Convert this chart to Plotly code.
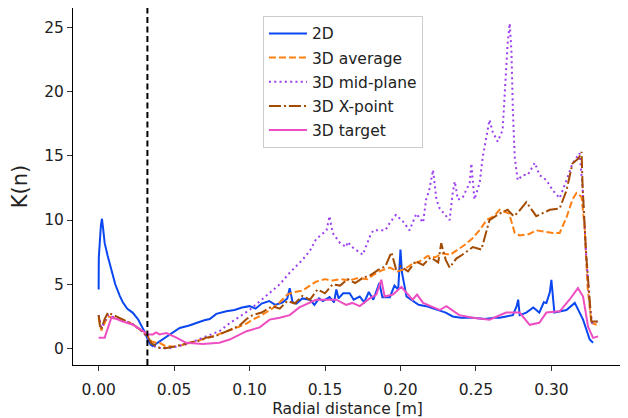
import plotly.graph_objects as go

# 2D
x_2d = [0.0000, 0.0001, 0.0015, 0.0022, 0.0030, 0.0040, 0.0060, 0.0084, 0.0110, 0.0140,
        0.0160, 0.0190, 0.0225, 0.0260, 0.0283, 0.0305, 0.0325, 0.0345, 0.0358, 0.0390,
        0.0424, 0.0480, 0.0537, 0.0600, 0.0647, 0.0700, 0.0736, 0.0780, 0.0846, 0.0900,
        0.0950, 0.1000, 0.1040, 0.1080, 0.1130, 0.1170, 0.1220, 0.1250, 0.1266, 0.1285,
        0.1310, 0.1350, 0.1400, 0.1430, 0.1460, 0.1486, 0.1530, 0.1560, 0.1575, 0.1590,
        0.1620, 0.1663, 0.1690, 0.1730, 0.1760, 0.1790, 0.1820, 0.1860, 0.1880, 0.1930,
        0.1960, 0.1985, 0.2000, 0.2010, 0.2040, 0.2080, 0.2120, 0.2170, 0.2220, 0.2260,
        0.2300, 0.2346, 0.2400, 0.2480, 0.2560, 0.2620, 0.2657, 0.2700, 0.2745, 0.2770,
        0.2780, 0.2790, 0.2834, 0.2880, 0.2920, 0.2950, 0.2967, 0.2990, 0.3000, 0.3020,
        0.3060, 0.3100, 0.3155, 0.3210, 0.3254, 0.3276]
k_2d = [4.6, 7.1, 9.6, 10.1, 9.3, 8.2, 7.2, 6.1, 5.0, 4.1,
        3.6, 3.1, 2.8, 2.3, 1.8, 1.3, 0.7, 0.3, 0.2, 0.45,
        0.75, 1.15, 1.6, 1.8, 2.0, 2.2, 2.3, 2.7, 2.9, 3.0,
        3.2, 3.3, 3.1, 3.5, 3.7, 3.4, 3.6, 3.9, 4.7, 3.6,
        3.5, 3.9, 3.8, 3.4, 3.9, 3.7, 4.0, 3.6, 4.6, 3.9,
        4.3, 4.3, 3.8, 4.05, 3.6, 4.4, 3.8, 5.1, 4.0, 4.0,
        4.9, 4.6, 7.7, 5.9, 4.05, 3.7, 3.4, 3.3, 3.1, 3.0,
        2.8, 2.5, 2.4, 2.4, 2.3, 2.4, 2.4, 2.5, 2.6, 3.3,
        3.8, 2.6, 2.8, 3.2, 2.8, 3.6, 3.55, 4.4, 5.35, 2.8,
        2.9, 3.0, 3.55, 2.25, 0.7, 0.45]

# 3D average
x_avg = [0.0000, 0.0008, 0.0018, 0.0040, 0.0062, 0.0100, 0.0160, 0.0225, 0.0290, 0.0327,
         0.0350, 0.0380, 0.0404, 0.0440, 0.0490, 0.0550, 0.0600, 0.0660, 0.0714, 0.0770,
         0.0820, 0.0880, 0.0930, 0.0980, 0.1020, 0.1080, 0.1150, 0.1200, 0.1250, 0.1300,
         0.1350, 0.1400, 0.1440, 0.1500, 0.1550, 0.1600, 0.1660, 0.1720, 0.1780, 0.1830,
         0.1880, 0.1930, 0.1980, 0.2030, 0.2080, 0.2130, 0.2180, 0.2230, 0.2280, 0.2330,
         0.2380, 0.2430, 0.2480, 0.2530, 0.2570, 0.2620, 0.2657, 0.2700, 0.2720, 0.2757,
         0.2790, 0.2850, 0.2900, 0.2950, 0.3010, 0.3055, 0.3100, 0.3140, 0.3166, 0.3200,
         0.3220, 0.3240, 0.3265, 0.3300]
k_avg = [2.5, 1.9, 1.4, 2.0, 2.5, 2.4, 2.25, 1.9, 1.35, 0.95,
         0.55, 0.45, 0.45, 0.2, 0.15, 0.25, 0.4, 0.6, 0.8, 1.0,
         1.2, 1.5, 1.7, 1.95, 2.25, 2.6, 3.1, 3.6, 4.2, 4.4,
         4.5, 4.9, 5.2, 5.4, 5.3, 5.4, 5.3, 5.5, 5.4, 5.8,
         6.1, 6.3, 6.0, 6.2, 6.6, 6.8, 7.2, 7.1, 7.4, 7.3,
         7.7, 8.1, 8.6, 9.3, 10.0, 10.3, 10.8, 10.6, 10.5, 9.0,
         8.8, 8.9, 9.2, 9.1, 9.0, 9.0, 10.2, 11.6, 12.1, 11.8,
         9.5, 4.8, 2.0, 1.85]

# 3D mid-plane
x_mid = [0.0000, 0.0018, 0.0062, 0.0160, 0.0225, 0.0290, 0.0327, 0.0360, 0.0404, 0.0460,
         0.0520, 0.0600, 0.0660, 0.0714, 0.0800, 0.0860, 0.0934, 0.1000, 0.1060, 0.1130,
         0.1200, 0.1266, 0.1350, 0.1400, 0.1440, 0.1510, 0.1530, 0.1550, 0.1600, 0.1640,
         0.1650, 0.1680, 0.1750, 0.1800, 0.1820, 0.1860, 0.1900, 0.1930, 0.1970, 0.2016,
         0.2060, 0.2105, 0.2150, 0.2170, 0.2190, 0.2216, 0.2238, 0.2260, 0.2300, 0.2326,
         0.2346, 0.2360, 0.2380, 0.2410, 0.2459, 0.2470, 0.2490, 0.2525, 0.2545, 0.2570,
         0.2590, 0.2610, 0.2644, 0.2677, 0.2690, 0.2710, 0.2724, 0.2735, 0.2745, 0.2757,
         0.2777, 0.2810, 0.2843, 0.2890, 0.2922, 0.2967, 0.3010, 0.3055, 0.3100, 0.3140,
         0.3187, 0.3207, 0.3230, 0.3254, 0.3270, 0.3307]
k_mid = [2.6, 1.6, 2.6, 2.2, 1.9, 1.3, 0.8, 0.2, 0.05, 0.0,
         0.15, 0.4, 0.7, 0.95, 1.35, 1.9, 2.5, 3.0, 3.6, 4.3,
         5.0, 5.9, 6.9, 7.6, 8.5, 9.2, 10.3, 9.0, 8.2, 7.9,
         8.3, 7.9, 7.3, 8.8, 9.2, 9.2, 9.2, 9.8, 10.4, 9.9,
         9.2, 10.5, 9.8, 11.6, 12.3, 13.9, 11.6, 10.9, 10.3, 10.0,
         12.1, 13.0, 11.6, 11.7, 12.9, 14.4, 11.6, 12.9, 14.9, 16.5,
         17.8, 16.9, 16.1, 17.0, 19.9, 23.7, 25.3, 23.2, 18.5, 14.9,
         13.1, 13.5, 13.5, 14.45, 13.5, 13.1, 12.3, 11.7, 13.1, 14.4,
         15.2, 12.5, 7.4, 3.3, 2.0, 2.1]

# 3D X-point
x_xpt = [0.0000, 0.0008, 0.0018, 0.0040, 0.0062, 0.0100, 0.0160, 0.0225, 0.0290, 0.0327,
         0.0350, 0.0404, 0.0450, 0.0500, 0.0600, 0.0660, 0.0714, 0.0770, 0.0820, 0.0880,
         0.0930, 0.0980, 0.1020, 0.1080, 0.1150, 0.1200, 0.1250, 0.1300, 0.1350, 0.1400,
         0.1450, 0.1500, 0.1550, 0.1600, 0.1650, 0.1700, 0.1750, 0.1800, 0.1850, 0.1900,
         0.1940, 0.1970, 0.2000, 0.2050, 0.2100, 0.2150, 0.2200, 0.2250, 0.2270, 0.2300,
         0.2326, 0.2370, 0.2410, 0.2480, 0.2536, 0.2590, 0.2657, 0.2710, 0.2750, 0.2780,
         0.2834, 0.2900, 0.2990, 0.3055, 0.3100, 0.3140, 0.3180, 0.3200, 0.3207, 0.3230,
         0.3254, 0.3265, 0.3307]
k_xpt = [2.6, 1.8, 1.5, 2.3, 2.8, 2.6, 2.3, 1.9, 1.35, 0.9,
         0.4, 0.05, 0.05, 0.15, 0.45, 0.6, 0.85, 0.95, 1.2, 1.5,
         1.75, 2.3, 2.6, 2.8, 3.3, 3.1, 3.7, 3.5, 4.1, 3.8,
         4.6, 4.3, 5.0, 4.9, 5.4, 5.1, 5.5, 5.7, 6.1, 6.4,
         7.5, 6.2, 6.4, 6.0, 6.8, 6.5, 7.1, 6.7, 8.2, 6.9,
         6.3, 7.0, 7.3, 7.9, 7.7, 10.0, 10.5, 10.8, 10.3, 10.6,
         11.4, 10.3, 10.8, 10.9, 12.3, 14.4, 14.8, 15.3, 12.6, 7.4,
         3.3, 2.1, 2.1]

# 3D target
x_tgt = [0.0000, 0.0040, 0.0084, 0.0120, 0.0160, 0.0227, 0.0294, 0.0327, 0.0360, 0.0380,
         0.0404, 0.0449, 0.0515, 0.0580, 0.0690, 0.0800, 0.0868, 0.0980, 0.1067, 0.1133,
         0.1200, 0.1266, 0.1330, 0.1440, 0.1510, 0.1575, 0.1640, 0.1680, 0.1730, 0.1796,
         0.1840, 0.1873, 0.1895, 0.1950, 0.2006, 0.2040, 0.2080, 0.2110, 0.2150, 0.2200,
         0.2260, 0.2304, 0.2390, 0.2480, 0.2590, 0.2700, 0.2790, 0.2856, 0.2920, 0.2967,
         0.3055, 0.3120, 0.3176, 0.3210, 0.3243, 0.3276, 0.3310]
k_tgt = [0.85, 0.85, 2.4, 2.3, 2.1, 1.85, 1.35, 1.1, 1.1, 1.26,
         1.1, 1.2, 0.85, 0.45, 0.36, 0.45, 0.7, 1.35, 1.65, 2.25,
         2.4, 2.6, 3.2, 3.8, 3.8, 3.8, 3.4, 3.55, 3.3, 3.9,
         4.2, 5.35, 4.05, 4.2, 4.8, 4.3, 3.8, 4.2, 3.55, 3.3,
         3.0, 3.3, 2.6, 2.4, 2.25, 2.8, 2.8, 1.85, 2.0, 2.8,
         2.9, 3.8, 4.7, 4.05, 1.7, 0.83, 0.95]

separatrix_x = 0.0323

x_ticks = [0.00, 0.05, 0.10, 0.15, 0.20, 0.25, 0.30]
y_ticks = [0, 5, 10, 15, 20, 25]

series = [
    ('2D', x_2d, k_2d, '#0a47f0', 'solid'),
    ('3D average', x_avg, k_avg, '#ff8012', '7px,3px'),
    ('3D mid-plane', x_mid, k_mid, '#9b3ef0', '2px,3.3px'),
    ('3D X-point', x_xpt, k_xpt, '#a34b00', '12px,3px,2px,3px'),
    ('3D target', x_tgt, k_tgt, '#ee4ec2', 'solid'),
]

fig = go.Figure()

for i, (name, xs, ks, color, dash) in enumerate(series):
    fig.add_trace(go.Scatter(
        x=xs, y=ks, mode='lines', name=name, legendgroup=str(i),
        line=dict(color=color, width=2, dash=dash)
    ))

# separatrix
fig.add_vline(x=separatrix_x, line=dict(color='black', width=2, dash='6px,3.5px'))

axis_style = dict(
    showline=True, linecolor='black', linewidth=1, mirror=True,
    ticks='outside', ticklen=5, tickcolor='#333333',
    showgrid=False, zeroline=False,
    tickfont=dict(size=15.5, color='#222222'),
)

# the page body adds an 8px offset, so the figure is a bit smaller than the window
fig.update_layout(
    width=620, height=410,
    margin=dict(l=65, r=6, t=0, b=53),
    plot_bgcolor='white', paper_bgcolor='white',
    font=dict(family='DejaVu Sans', color='#222222'),
    xaxis=dict(
        range=[-0.0170, 0.3468], tickvals=x_ticks, tickformat='.2f',
        ticklabelstandoff=5,
        title=dict(text='Radial distance [m]', font=dict(size=15.5), standoff=7),
        **axis_style
    ),
    yaxis=dict(
        range=[-1.28, 26.5], tickvals=y_ticks,
        title=dict(text='K(n)', font=dict(size=21), standoff=10),
        **axis_style
    ),
    legend=dict(
        x=0.346, y=0.978, xanchor='left', yanchor='top',
        bgcolor='rgba(255,255,255,0.8)', bordercolor='#cccccc', borderwidth=1,
        font=dict(size=15.5), tracegroupgap=1, itemwidth=38,
    ),
    showlegend=True,
)

fig.write_html("out.html")
